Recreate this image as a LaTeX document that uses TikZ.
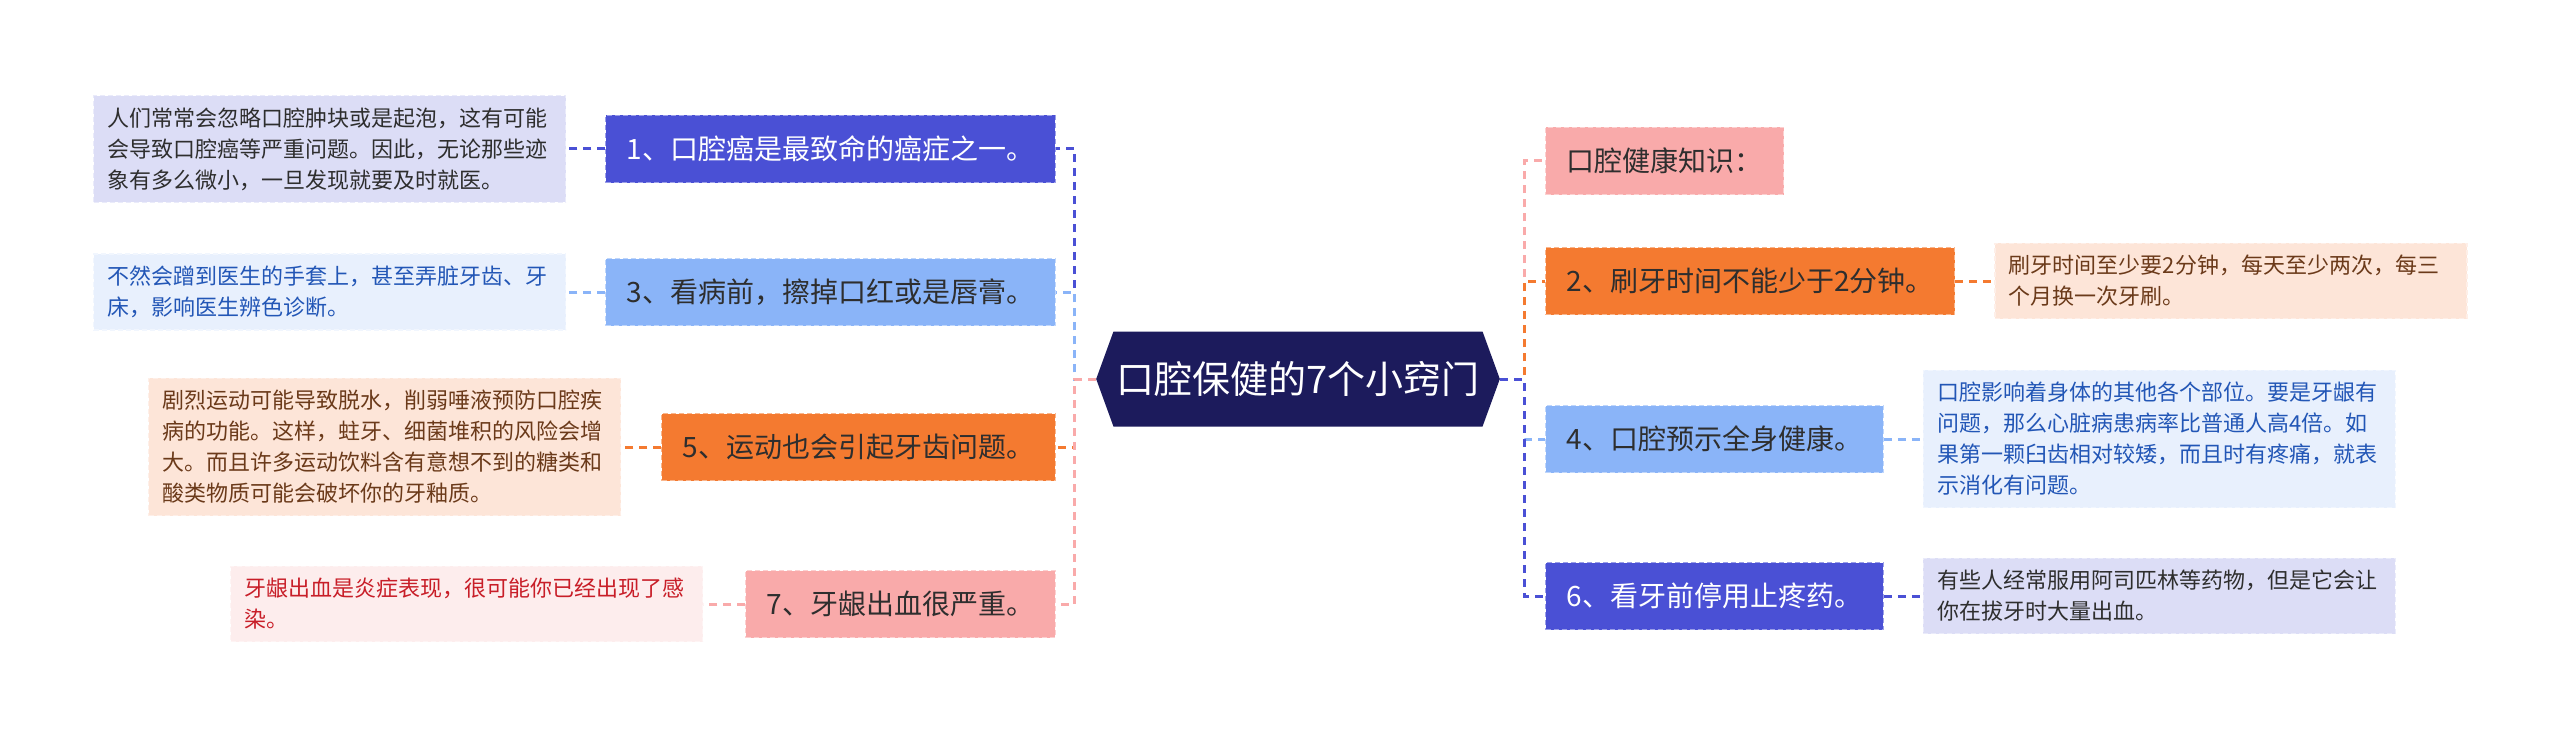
\documentclass[tikz,border=0pt]{standalone}
\usepackage{fontspec}
\setmainfont{Noto Sans CJK SC}
\usepackage{xcolor}
\usepackage{tikz}
\usetikzlibrary{shapes.symbols,positioning}

\definecolor{cNavy}{HTML}{1C1B5C}
\definecolor{cViolet}{HTML}{4A50D5}
\definecolor{cSky}{HTML}{8AB4F8}
\definecolor{cOrange}{HTML}{F47A30}
\definecolor{cPink}{HTML}{F9AAAA}
\definecolor{cLav}{HTML}{DCDDF6}
\definecolor{cIce}{HTML}{E8F0FD}
\definecolor{cPeach}{HTML}{FDE5D8}
\definecolor{cRose}{HTML}{FDEDED}
\definecolor{cInk}{HTML}{2E2E2E}
\definecolor{cBlueInk}{HTML}{2256B6}
\definecolor{cBrownInk}{HTML}{6B3A1A}
\definecolor{cRedInk}{HTML}{C81E28}

\begin{document}
\begin{tikzpicture}[x=1pt,y=-1pt,
    hub/.style={signal, signal to=west and east, signal pointer angle=140,
        fill=cNavy, text=white, font=\fontsize{38}{44}\selectfont,
        minimum height=95pt, inner xsep=3pt},
    topic/.style={fill=#1, draw=white!45!#1, dash pattern=on 5pt off 3pt,
        line width=1.2pt, text=cInk, minimum height=67pt, inner xsep=21pt,
        font=\fontsize{28}{34}\selectfont},
    note/.style={fill=#1, draw=white!40!#1, dash pattern=on 5pt off 3pt,
        line width=1.2pt, text width=444pt, inner xsep=14pt, inner ysep=12pt,
        align=left, font=\fontsize{22}{31}\selectfont},
    link/.style={draw=#1, line width=3pt, dash pattern=on 8pt off 6pt}]

    \fill[white] (0,0) rectangle (2560,741);
    \useasboundingbox (0,0) rectangle (2560,741);

    \node[hub] (hub) at (1298,379) {口腔保健的7个小窍门};

    % left branch
    \node[topic=cViolet, text=white, anchor=east] (k1) at (1056,149) {1、口腔癌是最致命的癌症之一。};
    \node[topic=cSky, anchor=east] (k3) at (1056,292) {3、看病前，擦掉口红或是唇膏。};
    \node[topic=cOrange, anchor=east] (k5) at (1056,447) {5、运动也会引起牙齿问题。};
    \node[topic=cPink, anchor=east] (k7) at (1056,604) {7、牙龈出血很严重。};

    \node[note=cLav, text=cInk, left=39pt of k1] (d1) {人们常常会忽略口腔肿块或是起泡，这有可能\\会导致口腔癌等严重问题。因此，无论那些迹\\象有多么微小，一旦发现就要及时就医。};
    \node[note=cIce, text=cBlueInk, left=39pt of k3] (d3) {不然会蹭到医生的手套上，甚至弄脏牙齿、牙\\床，影响医生辨色诊断。};
    \node[note=cPeach, text=cBrownInk, left=40pt of k5] (d5) {剧烈运动可能导致脱水，削弱唾液预防口腔疾\\病的功能。这样，蛀牙、细菌堆积的风险会增\\大。而且许多运动饮料含有意想不到的糖类和\\酸类物质可能会破坏你的牙釉质。};
    \node[note=cRose, text=cRedInk, left=42pt of k7] (d7) {牙龈出血是炎症表现，很可能你已经出现了感\\染。};

    % right branch
    \node[topic=cPink, anchor=west] (k0) at (1545,161) {口腔健康知识：};
    \node[topic=cOrange, anchor=west] (k2) at (1545,281) {2、刷牙时间不能少于2分钟。};
    \node[topic=cSky, anchor=west] (k4) at (1545,439) {4、口腔预示全身健康。};
    \node[topic=cViolet, text=white, anchor=west] (k6) at (1545,596) {6、看牙前停用止疼药。};

    \node[note=cPeach, text=cBrownInk, right=39pt of k2] (d2) {刷牙时间至少要2分钟，每天至少两次，每三\\个月换一次牙刷。};
    \node[note=cIce, text=cBlueInk, right=39pt of k4] (d4) {口腔影响着身体的其他各个部位。要是牙龈有\\问题，那么心脏病患病率比普通人高4倍。如\\果第一颗臼齿相对较矮，而且时有疼痛，就表\\示消化有问题。};
    \node[note=cLav, text=cInk, right=39pt of k6] (d6) {有些人经常服用阿司匹林等药物，但是它会让\\你在拔牙时大量出血。};

    % connectors
    \draw[link=cViolet] (hub.west) -- ++(-21,0) |- (k1.east);
    \draw[link=cSky] (hub.west) -- ++(-21,0) |- (k3.east);
    \draw[link=cOrange] (hub.west) -- ++(-21,0) |- (k5.east);
    \draw[link=cPink] (hub.west) -- ++(-21,0) |- (k7.east);

    \draw[link=cPink] (hub.east) -- ++(24,0) |- (k0.west);
    \draw[link=cOrange] (hub.east) -- ++(24,0) |- (k2.west);
    \draw[link=cSky] (hub.east) -- ++(24,0) |- (k4.west);
    \draw[link=cViolet] (hub.east) -- ++(24,0) |- (k6.west);

    \draw[link=cViolet] (k1.west) -- (d1.east);
    \draw[link=cSky] (k3.west) -- (d3.east);
    \draw[link=cOrange] (k5.west) -- (d5.east);
    \draw[link=cPink] (k7.west) -- (d7.east);
    \draw[link=cOrange] (k2.east) -- (d2.west);
    \draw[link=cSky] (k4.east) -- (d4.west);
    \draw[link=cViolet] (k6.east) -- (d6.west);
\end{tikzpicture}
\end{document}
